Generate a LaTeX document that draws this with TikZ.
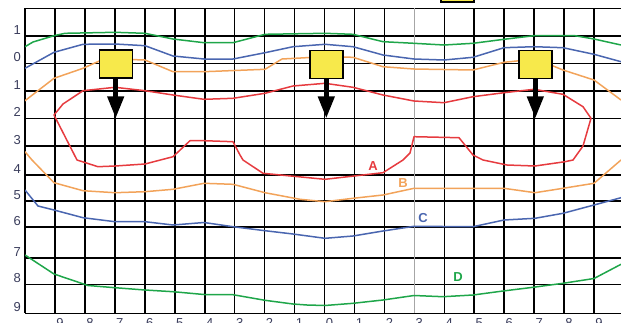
\documentclass[tikz,border=0pt]{standalone}
\usepackage{fontspec}
\setmainfont{Liberation Sans}
\usetikzlibrary{arrows.meta}
\definecolor{mauA}{HTML}{E63B3F}
\definecolor{mauB}{HTML}{F2A35A}
\definecolor{mauC}{HTML}{4A66B0}
\definecolor{mauD}{HTML}{1FA64A}
\definecolor{vang}{HTML}{F7E94B}
\definecolor{mauso}{HTML}{3A3D5C}

\begin{document}
\begin{tikzpicture}[ x=1pt, y=-1pt, >={Triangle[length=22pt,width=16pt]},
    luoi/.style={black, line width=1.6pt},
    duong/.style={line width=1.5pt, line join=round},
    hop/.style={draw=black, line width=1.4pt, fill=vang, minimum width=33pt, minimum height=28pt, inner sep=0pt},
    roi/.style={->, line width=4.5pt},
    so/.style={text=mauso, font=\fontsize{13}{15}\selectfont, inner sep=0pt},
    nhan/.style={font=\fontsize{13}{15}\selectfont\bfseries, inner sep=0pt} ]

    \useasboundingbox (0,0) rectangle (621,322);

% Lưới

    \foreach \y in {8.3,35.7,63.3,91,118.3,145.7,175,201,226.7,257.7,284.3,313.3}
        \draw[luoi] (25,\y) -- (621,\y);
    \foreach \i in {0,...,12,14,15,...,19}
        \draw[luoi] ({25+29.95*\i},8.3) -- ({25+29.95*\i},313.3);
    \draw[gray!70, line width=1.2pt] ({25+29.95*13},8.3) -- ({25+29.95*13},313.3);

% Đánh số

    \foreach \y/\t [count=\k] in {35.7/1,63.3/0,91/1,118.3/2,145.7/3,175/4,201/5,226.7/6,257.7/7,284.3/8,313.3/9}
        \node[so, anchor=east] (ly\k) at (21,{\y-6}) {\t};
    \foreach \i in {1,...,19} {
        \pgfmathtruncatemacro\t{abs(\i-10)}
        \node[so, anchor=north] (lx\i) at ({30+29.95*\i},318.3) {\t};
    }

% Các đường

    \begin{scope}
    \clip (25,0) rectangle (621,322);

    \draw[duong, mauD] plot coordinates { (25,46.7) (33,42) (54,35.7) (65,33.3) (115,32.3) (145,33.3) (173,39) (204,42.7) (233,42.7) (265,34.3) (325,33.3) (353,34.3) (383,41.7) (414,43.3) (444,45) (473,43.3) (504,39.3) (534,35.7) (575,35.7) (594,39) (621,45) };
    \draw[duong, mauC] plot coordinates { (25,68.3) (54,52.3) (83,44.3) (115,44) (145,45.7) (173,56) (204,59) (233,59) (265,52.7) (293,46.7) (325,44.3) (353,46.7) (383,55) (414,59) (444,60) (473,57.3) (504,47.7) (534,46.7) (563,47.7) (594,54.3) (621,61.7) };
    \draw[duong, mauB] plot coordinates { (25,100.7) (54,78.3) (83,68.3) (100,60.7) (115,59) (145,60) (173,71.7) (204,71.7) (265,69.3) (282,59) (325,56.7) (353,57.3) (383,66.7) (414,69) (473,70) (504,62.3) (536,59) (563,70) (594,80) (621,100) };

    \draw[duong, mauA] (54,115) -- (63,104) -- (83,90.7) -- (115,87.3) -- (145,90.7) -- (173,95) -- (204,99.3) -- (233,98.3) -- (265,93.3) -- (293,86) -- (325,83.3) -- (353,87.3) -- (383,95) -- (414,101) -- (444,102.7) -- (473,96.7) -- (504,92.7) -- (534,89.3) -- (563,94.3) -- (583,106.7) -- (591,118.3) -- (583,146) -- (573,160) -- (565,161.7) -- (535,166) -- (507,165) -- (483,160) -- (473,155) -- (459,137.7) -- (414,136.7) -- (410,153) -- (403,160) -- (383,172.7) -- (325,179.3) -- (263,173.3) -- (243,160) -- (240,155) -- (233,141.7) -- (204,140.7) -- (190,140.7) -- (173,156.7) -- (145,164) -- (115,166) -- (98,166.7) -- (77,160) -- cycle;

    \draw[duong, mauB] plot coordinates { (25,151.7) (32,160) (54,182.7) (83,190.7) (115,192.7) (145,191.7) (173,189.3) (204,183.3) (233,184.3) (265,192.7) (300,199.3) (325,201.7) (353,198.3) (383,195) (414,188.3) (444,188.3) (504,188.3) (535,192.7) (563,188.3) (594,183.3) (621,160) };
    \draw[duong, mauC] plot coordinates { (25,190) (38,206) (54,210) (83,217.7) (115,221.7) (145,221.7) (173,225) (204,222.5) (233,226.7) (265,230.7) (293,234) (325,238.3) (353,236) (383,231) (414,226.3) (473,226.7) (504,220) (535,218.3) (563,213.3) (594,205) (621,197.7) };
    \draw[duong, mauD] plot coordinates { (25,255) (54,274) (88,285.5) (115,287.7) (145,290) (173,291.7) (204,294.5) (233,294.7) (265,300.3) (293,304) (307,305) (325,305.5) (353,303.3) (383,300) (414,295.5) (443,296.7) (473,295) (503,291) (533,287.3) (563,283.3) (594,278.5) (621,264.3) };
    \end{scope}

% Nhãn đường

    \node[nhan, text=mauA] (nA) at (373,166) {A};
    \node[nhan, text=mauB] (nB) at (403,183) {B};
    \node[nhan, text=mauC] (nC) at (423,218) {C};
    \node[nhan, text=mauD] (nD) at (458,277) {D};

% Hộp và mũi tên

    \node[hop] (s0) at (457.5,-12) {};
    \node[hop] (s1) at (115.7,64) {};
    \node[hop] (s2) at (326.3,64.5) {};
    \node[hop] (s3) at (535.3,64.5) {};
    \coordinate (t1) at (115.7,118.3);
    \coordinate (t2) at (326.3,118.3);
    \coordinate (t3) at (535.3,118.3);
    \draw[roi] (s1) -- (t1);
    \draw[roi] (s2) -- (t2);
    \draw[roi] (s3) -- (t3);

\end{tikzpicture}
\end{document}
